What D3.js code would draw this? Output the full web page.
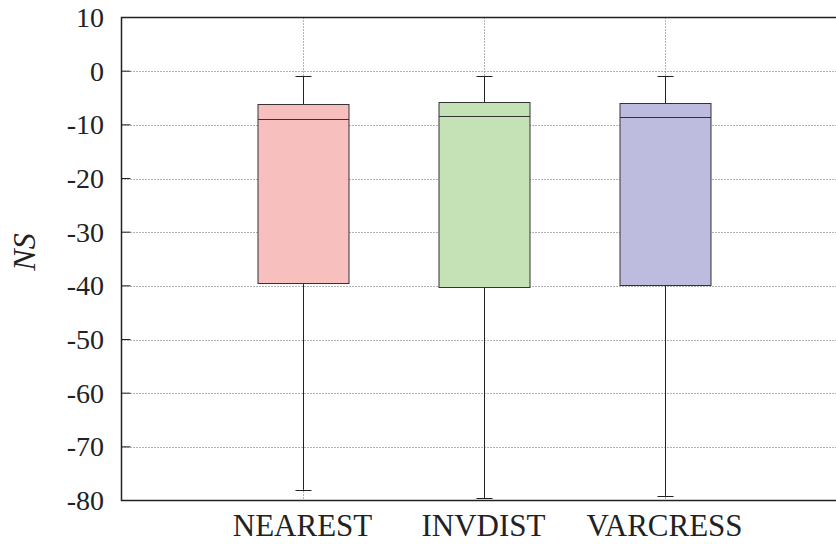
<html>
<head>
<style>
  body { margin: 0; background: #fff; }
  svg text { font-family: 'Liberation Serif', 'Times New Roman', serif; }
</style>
<script src="https://d3js.org/d3.v7.min.js"></script>
</head>
<body></body>
<script>
const categories = ['NEAREST', 'INVDIST', 'VARCRESS'];
const whiskerLow = [-78.0, -79.6, -79.1];
const q1 = [-39.5, -40.2, -39.9];
const median = [-9.0, -8.3, -8.6];
const q3 = [-6.2, -5.7, -5.9];
const whiskerHigh = [-0.95, -0.9, -0.95];
const yTicks = [10, 0, -10, -20, -30, -40, -50, -60, -70, -80];
const fills = ['#f8bfbf', '#c5e2b6', '#bdbcde'];

const width = 836, height = 544;

const svg = d3.select('body').append('svg')
    .attr('width', width)
    .attr('height', height);

const x = d3.scaleLinear().domain([0, 4]).range([121.5, 845.5]);
const y = d3.scaleLinear().domain([-80, 10]).range([500.5, 17.5]);

// grid
svg.append('g')
    .selectAll('line')
    .data(yTicks.filter(d => d > -80 && d < 10))
    .enter().append('line')
        .attr('x1', x(0)).attr('x2', x(4))
        .attr('y1', d => Math.round(y(d)) + 0.5)
        .attr('y2', d => Math.round(y(d)) + 0.5)
        .attr('stroke', '#666')
        .attr('stroke-width', 1)
        .attr('stroke-dasharray', '1,2');

svg.append('g')
    .selectAll('line')
    .data(categories)
    .enter().append('line')
        .attr('x1', (d, i) => Math.round(x(i + 1)) + 0.5)
        .attr('x2', (d, i) => Math.round(x(i + 1)) + 0.5)
        .attr('y1', y(10)).attr('y2', y(-80))
        .attr('stroke', '#666')
        .attr('stroke-width', 1)
        .attr('stroke-dasharray', '1,2');

// boxes
const boxW = 91;
const capW = 16;
categories.forEach((c, i) => {
    const cx = Math.round(x(i + 1)) + 0.5;
    const g = svg.append('g');
    g.append('line')
        .attr('x1', cx).attr('x2', cx)
        .attr('y1', y(whiskerHigh[i])).attr('y2', y(whiskerLow[i]))
        .attr('stroke', '#222').attr('stroke-width', 1);
    g.append('line')
        .attr('x1', cx - capW / 2).attr('x2', cx + capW / 2)
        .attr('y1', Math.round(y(whiskerHigh[i])) + 0.5).attr('y2', Math.round(y(whiskerHigh[i])) + 0.5)
        .attr('stroke', '#222').attr('stroke-width', 1);
    g.append('line')
        .attr('x1', cx - capW / 2).attr('x2', cx + capW / 2)
        .attr('y1', Math.round(y(whiskerLow[i])) + 0.5).attr('y2', Math.round(y(whiskerLow[i])) + 0.5)
        .attr('stroke', '#222').attr('stroke-width', 1);
    g.append('rect')
        .attr('x', cx - boxW / 2)
        .attr('y', Math.round(y(q3[i])) + 0.5)
        .attr('width', boxW)
        .attr('height', Math.round(y(q1[i])) - Math.round(y(q3[i])))
        .attr('fill', fills[i])
        .attr('stroke', '#333').attr('stroke-width', 1);
    g.append('line')
        .attr('x1', cx - boxW / 2).attr('x2', cx + boxW / 2)
        .attr('y1', Math.round(y(median[i])) + 0.5).attr('y2', Math.round(y(median[i])) + 0.5)
        .attr('stroke', '#333').attr('stroke-width', 1);
});

// frame
svg.append('rect')
    .attr('x', x(0)).attr('y', y(10))
    .attr('width', x(4) - x(0)).attr('height', y(-80) - y(10))
    .attr('fill', 'none').attr('stroke', '#222').attr('stroke-width', 1.5);

// y ticks and labels
svg.append('g')
    .selectAll('line')
    .data(yTicks)
    .enter().append('line')
        .attr('x1', x(0)).attr('x2', x(0) + 9)
        .attr('y1', d => y(d)).attr('y2', d => y(d))
        .attr('stroke', '#222').attr('stroke-width', 1);

svg.append('g')
    .selectAll('text')
    .data(yTicks)
    .enter().append('text')
        .attr('x', 104)
        .attr('y', d => y(d) + 9.5)
        .attr('text-anchor', 'end')
        .style('font-size', '28px')
        .attr('fill', '#222')
        .text(d => d);

// x labels
svg.append('g')
    .selectAll('text')
    .data(categories)
    .enter().append('text')
        .attr('x', (d, i) => x(i + 1))
        .attr('y', 536)
        .attr('text-anchor', 'middle')
        .style('font-size', '31px')
        .attr('fill', '#222')
        .text(d => d);

// y label
svg.append('text')
    .attr('transform', 'translate(35,252) rotate(-90)')
    .attr('text-anchor', 'middle')
    .style('font-size', '32px')
    .style('font-style', 'italic')
    .attr('fill', '#222')
    .text('NS');
</script>
</html>
